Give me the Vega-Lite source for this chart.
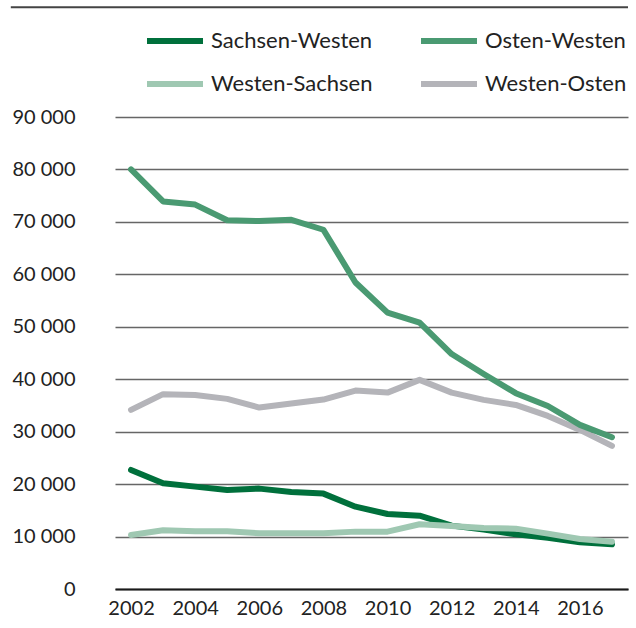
{
  "$schema": "https://vega.github.io/schema/vega-lite/v6.json",
  "width": 513,
  "height": 472,
  "autosize": {"type": "none"},
  "padding": {"left": 115, "top": 117, "right": 8, "bottom": 39},
  "background": "white",
  "config": {
    "view": {"stroke": null},
    "font": "Lato",
    "axis": {"labelFont": "Lato", "labelFontSize": 20, "labelColor": "#222222"}
  },
  "data": {
    "values": [
      {"year": 2002, "s": "Sachsen-Westen", "v": 22700},
      {"year": 2003, "s": "Sachsen-Westen", "v": 20170},
      {"year": 2004, "s": "Sachsen-Westen", "v": 19520},
      {"year": 2005, "s": "Sachsen-Westen", "v": 18890},
      {"year": 2006, "s": "Sachsen-Westen", "v": 19140},
      {"year": 2007, "s": "Sachsen-Westen", "v": 18510},
      {"year": 2008, "s": "Sachsen-Westen", "v": 18190},
      {"year": 2009, "s": "Sachsen-Westen", "v": 15700},
      {"year": 2010, "s": "Sachsen-Westen", "v": 14310},
      {"year": 2011, "s": "Sachsen-Westen", "v": 13990},
      {"year": 2012, "s": "Sachsen-Westen", "v": 12080},
      {"year": 2013, "s": "Sachsen-Westen", "v": 11320},
      {"year": 2014, "s": "Sachsen-Westen", "v": 10430},
      {"year": 2015, "s": "Sachsen-Westen", "v": 9790},
      {"year": 2016, "s": "Sachsen-Westen", "v": 8910},
      {"year": 2017, "s": "Sachsen-Westen", "v": 8530},
      {"year": 2002, "s": "Osten-Westen", "v": 80000},
      {"year": 2003, "s": "Osten-Westen", "v": 73900},
      {"year": 2004, "s": "Osten-Westen", "v": 73300},
      {"year": 2005, "s": "Osten-Westen", "v": 70300},
      {"year": 2006, "s": "Osten-Westen", "v": 70150},
      {"year": 2007, "s": "Osten-Westen", "v": 70400},
      {"year": 2008, "s": "Osten-Westen", "v": 68500},
      {"year": 2009, "s": "Osten-Westen", "v": 58450},
      {"year": 2010, "s": "Osten-Westen", "v": 52700},
      {"year": 2011, "s": "Osten-Westen", "v": 50800},
      {"year": 2012, "s": "Osten-Westen", "v": 44800},
      {"year": 2013, "s": "Osten-Westen", "v": 41000},
      {"year": 2014, "s": "Osten-Westen", "v": 37340},
      {"year": 2015, "s": "Osten-Westen", "v": 34900},
      {"year": 2016, "s": "Osten-Westen", "v": 31300},
      {"year": 2017, "s": "Osten-Westen", "v": 28940},
      {"year": 2002, "s": "Westen-Sachsen", "v": 10300},
      {"year": 2003, "s": "Westen-Sachsen", "v": 11190},
      {"year": 2004, "s": "Westen-Sachsen", "v": 11000},
      {"year": 2005, "s": "Westen-Sachsen", "v": 11000},
      {"year": 2006, "s": "Westen-Sachsen", "v": 10620},
      {"year": 2007, "s": "Westen-Sachsen", "v": 10620},
      {"year": 2008, "s": "Westen-Sachsen", "v": 10620},
      {"year": 2009, "s": "Westen-Sachsen", "v": 10940},
      {"year": 2010, "s": "Westen-Sachsen", "v": 10940},
      {"year": 2011, "s": "Westen-Sachsen", "v": 12340},
      {"year": 2012, "s": "Westen-Sachsen", "v": 12020},
      {"year": 2013, "s": "Westen-Sachsen", "v": 11640},
      {"year": 2014, "s": "Westen-Sachsen", "v": 11510},
      {"year": 2015, "s": "Westen-Sachsen", "v": 10560},
      {"year": 2016, "s": "Westen-Sachsen", "v": 9540},
      {"year": 2017, "s": "Westen-Sachsen", "v": 9030},
      {"year": 2002, "s": "Westen-Osten", "v": 34150},
      {"year": 2003, "s": "Westen-Osten", "v": 37150},
      {"year": 2004, "s": "Westen-Osten", "v": 37000},
      {"year": 2005, "s": "Westen-Osten", "v": 36250},
      {"year": 2006, "s": "Westen-Osten", "v": 34600},
      {"year": 2007, "s": "Westen-Osten", "v": 35360},
      {"year": 2008, "s": "Westen-Osten", "v": 36120},
      {"year": 2009, "s": "Westen-Osten", "v": 37840},
      {"year": 2010, "s": "Westen-Osten", "v": 37450},
      {"year": 2011, "s": "Westen-Osten", "v": 39880},
      {"year": 2012, "s": "Westen-Osten", "v": 37450},
      {"year": 2013, "s": "Westen-Osten", "v": 36060},
      {"year": 2014, "s": "Westen-Osten", "v": 35100},
      {"year": 2015, "s": "Westen-Osten", "v": 33000},
      {"year": 2016, "s": "Westen-Osten", "v": 30340},
      {"year": 2017, "s": "Westen-Osten", "v": 27280}
    ]
  },
  "encoding": {
    "x": {
      "field": "year", "type": "quantitative",
      "scale": {"domain": [2001.5, 2017.5], "nice": false, "zero": false},
      "axis": {
        "title": null, "values": [2002, 2004, 2006, 2008, 2010, 2012, 2014, 2016],
        "format": "d", "grid": false, "ticks": false, "domain": true,
        "domainColor": "#1a1a1a", "domainWidth": 2, "labelPadding": 9
      }
    },
    "y": {
      "field": "v", "type": "quantitative",
      "scale": {"domain": [0, 90000], "nice": false},
      "axis": {
        "title": null, "values": [0, 10000, 20000, 30000, 40000, 50000, 60000, 70000, 80000, 90000],
        "labelExpr": "replace(format(datum.value, ','), ',', ' ')",
        "domain": false, "ticks": false, "grid": true, "gridColor": "#666666", "gridWidth": 1.5,
        "labelPadding": 40
      }
    }
  },
  "layer": [
    {
      "data": {"values": [{"year": 1998.25, "year2": 2017.5, "v": 110950}]},
      "mark": {"type": "rule", "clip": false, "stroke": "#444444", "strokeWidth": 2},
      "encoding": {
        "x": {"field": "year", "type": "quantitative"},
        "x2": {"field": "year2"},
        "y": {"field": "v", "type": "quantitative"}
      }
    },
    {
      "encoding": {
        "color": {
          "field": "s", "type": "nominal",
          "scale": {
            "domain": ["Sachsen-Westen", "Osten-Westen", "Westen-Sachsen", "Westen-Osten"],
            "range": ["#00703c", "#4a9a72", "#9fc8b2", "#b4b4b9"]
          },
          "legend": {
            "title": null, "orient": "none", "legendX": 29, "legendY": -107, "columns": 2,
            "direction": "horizontal",
            "values": ["Sachsen-Westen", "Osten-Westen", "Westen-Sachsen", "Westen-Osten"],
            "symbolType": "stroke", "symbolSize": 3136, "symbolStrokeWidth": 6,
            "labelFont": "Lato", "labelFontSize": 22, "labelColor": "#222222", "labelOffset": 5,
            "columnPadding": 36, "rowPadding": -18, "labelLimit": 300
          }
        }
      },
      "layer": [
        {
          "transform": [{"filter": "datum.s === 'Sachsen-Westen'"}],
          "mark": {"type": "line", "strokeWidth": 6, "strokeCap": "round", "strokeJoin": "round"}
        },
        {
          "transform": [{"filter": "datum.s === 'Westen-Sachsen'"}],
          "mark": {"type": "line", "strokeWidth": 6, "strokeCap": "round", "strokeJoin": "round"}
        },
        {
          "transform": [{"filter": "datum.s === 'Westen-Osten'"}],
          "mark": {"type": "line", "strokeWidth": 6, "strokeCap": "round", "strokeJoin": "round"}
        },
        {
          "transform": [{"filter": "datum.s === 'Osten-Westen'"}],
          "mark": {"type": "line", "strokeWidth": 6, "strokeCap": "round", "strokeJoin": "round"}
        }
      ]
    }
  ]
}
